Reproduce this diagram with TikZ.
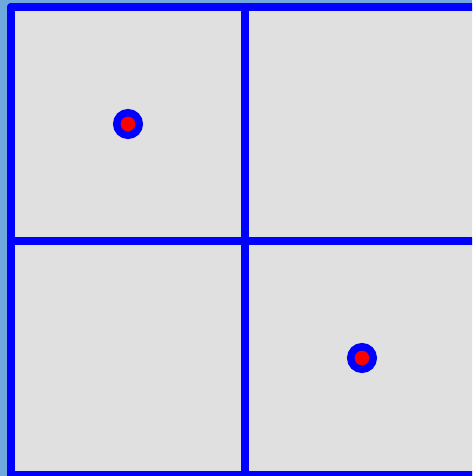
\documentclass[tikz,border=0pt]{standalone}
\usepackage{tikz}
\usetikzlibrary{positioning}

\definecolor{bgblue}{HTML}{6FA8DC}
\definecolor{cellgray}{HTML}{E0E0E0}

\tikzset{
	gridline/.style={blue, line width=4pt, line join=round, line cap=round},
	marker/.style={circle, fill=red, draw=blue, line width=3.75pt, minimum size=11.25pt, inner sep=0pt}
}

\begin{document}
\begin{tikzpicture}[x=0.5pt, y=-0.5pt]
	\useasboundingbox (0,0) rectangle (472,476);
	\clip (0,0) rectangle (472,476);
	\fill[bgblue] (0,0) rectangle (472,476);
	\fill[cellgray] (11,7) rectangle (479,475);
	% 2x2 cells of 234 px
	\foreach \k in {0,1,2}{
		\draw[gridline] (11+234*\k,7) -- (11+234*\k,475);
		\draw[gridline] (11,7+234*\k) -- (479,7+234*\k);
	}
	\node[marker] (dotA) at (128,124) {};
	\node[marker] (dotB) at (362,358) {};
\end{tikzpicture}
\end{document}
